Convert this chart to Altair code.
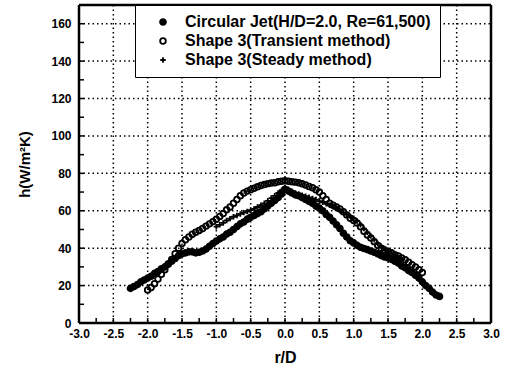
import altair as alt
import pandas as pd

# Circular Jet (filled circles)
jet_r = [-2.25, -2.20, -2.15, -2.10, -2.05, -2.00, -1.95, -1.90, -1.85, -1.80, -1.75, -1.70, -1.65, -1.60,
         -1.55, -1.50, -1.45, -1.40, -1.35, -1.30, -1.25, -1.20, -1.15, -1.10, -1.05, -1.00, -0.95, -0.90,
         -0.85, -0.80, -0.75, -0.70, -0.65, -0.60, -0.55, -0.50, -0.45, -0.40, -0.35, -0.30, -0.25, -0.20,
         -0.15, -0.10, -0.05, 0.00, 0.05, 0.10, 0.15, 0.20, 0.25, 0.30, 0.35, 0.40, 0.45, 0.50, 0.55, 0.60,
         0.65, 0.70, 0.75, 0.80, 0.85, 0.90, 0.95, 1.00, 1.05, 1.10, 1.15, 1.20, 1.25, 1.30, 1.35, 1.40,
         1.45, 1.50, 1.55, 1.60, 1.65, 1.70, 1.75, 1.80, 1.85, 1.90, 1.95, 2.00, 2.05, 2.10, 2.15, 2.20, 2.25]
jet_h = [18.5, 19.5, 20.5, 22.0, 23.0, 24.0, 25.0, 26.5, 27.5, 29.0, 30.0, 31.5, 33.0, 34.5,
         36.0, 37.0, 37.5, 38.0, 38.0, 37.5, 37.8, 38.5, 39.5, 41.0, 42.5, 43.8, 45.0, 46.0,
         47.5, 48.5, 50.0, 51.5, 53.0, 54.0, 55.5, 56.5, 57.5, 58.5, 59.5, 61.0, 62.5, 64.0,
         65.5, 67.0, 69.0, 71.5, 70.5, 69.5, 68.5, 68.0, 67.0, 66.0, 65.0, 64.0, 62.5, 61.5, 60.0, 58.0,
         56.5, 54.5, 52.5, 50.5, 48.0, 46.0, 44.0, 42.8, 41.5, 40.5, 39.8, 39.2, 38.5, 37.8, 37.0, 36.0,
         35.3, 34.8, 34.0, 33.0, 32.0, 30.5, 29.5, 28.0, 27.0, 25.5, 24.0, 22.0, 20.0, 18.5, 16.5, 15.0, 14.2]

# Shape 3 (Transient method) - open circles
tr_r = [-2.00, -1.95, -1.90, -1.85, -1.80, -1.75, -1.70, -1.65, -1.60, -1.55, -1.50, -1.45, -1.40, -1.35,
        -1.30, -1.25, -1.20, -1.15, -1.10, -1.05, -1.00, -0.95, -0.90, -0.85, -0.80, -0.75, -0.70, -0.65,
        -0.60, -0.55, -0.50, -0.45, -0.40, -0.35, -0.30, -0.25, -0.20, -0.15, -0.10, -0.05, 0.00, 0.05,
        0.10, 0.15, 0.20, 0.25, 0.30, 0.35, 0.40, 0.45, 0.50, 0.55, 0.60, 0.65, 0.70, 0.75, 0.80, 0.85,
        0.90, 0.95, 1.00, 1.05, 1.10, 1.15, 1.20, 1.25, 1.30, 1.35, 1.40, 1.45, 1.50, 1.55, 1.60, 1.65,
        1.70, 1.75, 1.80, 1.85, 1.90, 1.95, 2.00]
tr_h = [17.7, 19.0, 21.0, 23.5, 26.0, 28.5, 31.5, 34.0, 37.0, 40.0, 42.5, 44.5, 46.0, 47.5,
        48.5, 49.5, 50.5, 51.8, 53.0, 54.2, 55.5, 57.0, 58.5, 60.5, 62.0, 64.0, 66.0, 68.0,
        69.5, 70.5, 71.3, 72.0, 72.8, 73.5, 74.0, 74.5, 74.8, 75.0, 75.5, 75.8, 76.0, 75.8,
        75.5, 75.3, 75.0, 74.4, 73.8, 73.0, 72.3, 71.2, 70.0, 68.0, 66.0, 64.0, 63.0, 62.0, 61.0, 59.5,
        57.8, 56.0, 54.8, 53.5, 51.5, 49.0, 47.0, 45.5, 43.5, 41.5, 40.0, 39.0, 38.4, 37.5, 36.5, 35.8,
        34.8, 33.8, 32.5, 31.2, 30.0, 28.5, 27.0]

# Shape 3 (Steady method) - plus markers
st_r = [-1.00, -0.95, -0.90, -0.85, -0.80, -0.75, -0.70, -0.65, -0.60, -0.55, -0.50, -0.45, -0.40, -0.35,
        -0.30, -0.25, -0.20, -0.15, -0.10, -0.05, 0.00, 0.05, 0.10, 0.15, 0.20, 0.25, 0.30, 0.35, 0.40,
        0.45, 0.50, 0.55, 0.60, 0.65, 0.70, 0.75, 0.80, 0.85, 0.90, 0.95, 1.00, 1.05, 1.10, 1.15, 1.20,
        1.25, 1.30, 1.35, 1.40, 1.45, 1.50, 1.55, 1.60, 1.65, 1.70]
st_h = [51.5, 52.5, 53.5, 54.8, 55.8, 56.8, 57.5, 58.3, 59.0, 59.6, 60.3, 61.0, 62.0, 63.0,
        64.0, 65.3, 66.8, 68.0, 69.5, 71.0, 72.5, 71.5, 70.5, 69.5, 69.0, 68.3, 67.8, 67.2, 66.6,
        66.0, 65.2, 64.5, 63.7, 63.0, 62.2, 61.3, 60.2, 59.0, 58.0, 57.0, 56.0, 54.5, 52.5, 50.5, 48.5,
        46.5, 44.5, 42.5, 41.0, 39.8, 38.5, 37.2, 36.0, 35.0, 34.0]

series_names = ["Circular Jet(H/D=2.0, Re=61,500)", "Shape 3(Transient method)", "Shape 3(Steady method)"]

x_labels = [-3.0, -2.5, -2.0, -1.5, -1.0, -0.5, 0.0, 0.5, 1.0, 1.5, 2.0, 2.5, 3.0]
y_labels = [0, 20, 40, 60, 80, 100, 120, 140, 160]
x_grid = [-2.5, -2.0, -1.5, -1.0, -0.5, 0.0, 0.5, 1.0, 1.5, 2.0, 2.5]
y_grid = [20, 40, 60, 80, 100, 120, 140, 160]
x_ticks = [-2.75, -2.5, -2.25, -2.0, -1.75, -1.5, -1.25, -1.0, -0.75, -0.5, -0.25, 0.0,
           0.25, 0.5, 0.75, 1.0, 1.25, 1.5, 1.75, 2.0, 2.25, 2.5, 2.75]
y_ticks = [10, 20, 30, 40, 50, 60, 70, 80, 90, 100, 110, 120, 130, 140, 150, 160]

rows = []
for name, rs, hs in zip(series_names, [jet_r, tr_r, st_r], [jet_h, tr_h, st_h]):
    for r, h in zip(rs, hs):
        rows.append({"series": name, "r": r, "h": h})
df = pd.DataFrame(rows)

FONT = "Liberation Sans"
W, H = 412, 318

xscale = alt.Scale(domain=[-3, 3], nice=False, zero=False)
yscale = alt.Scale(domain=[0, 170], nice=False, zero=False)

xaxis = alt.Axis(
    title="r/D", values=x_labels,
    labelExpr="replace(format(datum.value, '.1f'), '\u2212', '-')",
    grid=False, ticks=False, labelPadding=5, labelFontSize=12, labelFont=FONT,
    labelFontWeight="bold", labelColor="black", titleFont=FONT, titleFontSize=16,
    titleFontWeight="bold", titleColor="black", titlePadding=10, domain=False,
    labelFlush=False, labelOverlap=False)
yaxis = alt.Axis(
    title="h(W/m²K)", values=y_labels,
    grid=False, ticks=False, labelPadding=8, labelFontSize=12, labelFont=FONT,
    labelFontWeight="bold", labelColor="black", titleFont=FONT, titleFontSize=15,
    titleFontWeight="bold", titleColor="black", titlePadding=18, domain=False,
    labelOverlap=False, labelFlush=False)

leg = alt.Legend(title=None, orient="none", legendX=56, legendY=0, fillColor="white",
                 strokeColor="black", padding=9, labelFont=FONT, labelFontSize=16,
                 labelFontWeight="bold", labelColor="black", rowPadding=3,
                 symbolOffset=11, labelOffset=14, symbolStrokeWidth=1.8, labelLimit=400)

X = alt.X("r:Q", scale=xscale, axis=xaxis)
Y = alt.Y("h:Q", scale=yscale, axis=yaxis)

# dotted grid lines, spanning the plot area
xgrid = alt.Chart(pd.DataFrame({"r": x_grid})).mark_rule(
    color="black", strokeWidth=1.5, strokeDash=[1.5, 3]).encode(
    x=X, y=alt.value(0), y2=alt.value(H))
ygrid = alt.Chart(pd.DataFrame({"h": y_grid})).mark_rule(
    color="black", strokeWidth=1.5, strokeDash=[1.5, 3]).encode(
    y=Y, x=alt.value(0), x2=alt.value(W))

points = alt.Chart(df).mark_point(strokeWidth=1.8, opacity=1).encode(
    x=X, y=Y,
    shape=alt.Shape("series:N", scale=alt.Scale(domain=series_names,
                                                range=["circle", "circle", "M-1,0L1,0M0,-1L0,1"]),
                    legend=leg),
    fill=alt.Fill("series:N", scale=alt.Scale(domain=series_names,
                                              range=["black", "transparent", "transparent"]),
                  legend=leg),
    stroke=alt.Stroke("series:N", scale=alt.Scale(domain=series_names,
                                                  range=["black", "black", "black"]),
                      legend=leg),
    size=alt.Size("series:N", scale=alt.Scale(domain=series_names, range=[34, 30, 64]),
                  legend=leg),
)

# inward minor/major ticks
xt = alt.Chart(pd.DataFrame({"r": x_ticks})).mark_rule(color="black", strokeWidth=1.5).encode(
    x=X, y=alt.value(H), y2=alt.value(H - 5))
yt = alt.Chart(pd.DataFrame({"h": y_ticks})).mark_rule(color="black", strokeWidth=1.5).encode(
    y=Y, x=alt.value(0), x2=alt.value(5))

# plot frame (four solid edges at the scale limits)
edge_x = alt.Chart(pd.DataFrame({"r": [x_labels[0], x_labels[-1]]})).mark_rule(
    color="black", strokeWidth=2.5).encode(x=X, y=alt.value(0), y2=alt.value(H))
edge_y = alt.Chart(pd.DataFrame({"h": [0, 170]})).mark_rule(
    color="black", strokeWidth=2.5).encode(y=Y, x=alt.value(0), x2=alt.value(W))

chart = alt.layer(xgrid, ygrid, points, xt, yt, edge_x, edge_y).properties(
    width=W, height=H, autosize="none",
    padding={"left": 79, "top": 5, "right": 14, "bottom": 47},
).configure_view(stroke=None)

chart.save("out.html", embed_options={"renderer": "svg", "actions": False})
